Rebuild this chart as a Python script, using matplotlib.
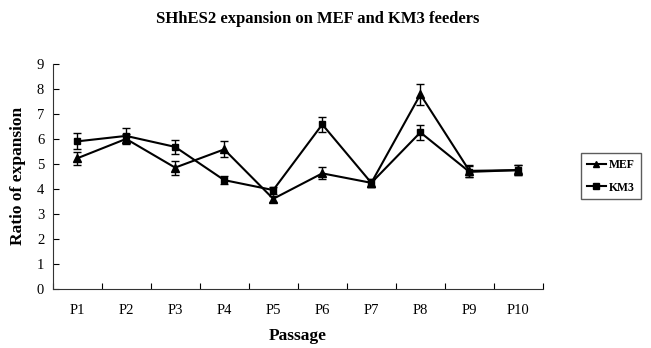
import numpy as np
import matplotlib.pyplot as plt
from matplotlib.lines import Line2D

plt.rcParams['font.family'] = ['Liberation Serif', 'DejaVu Serif']

# data
passages = ['P1', 'P2', 'P3', 'P4', 'P5', 'P6', 'P7', 'P8', 'P9', 'P10']
mef = [5.22, 6.0, 4.85, 5.58, 3.6, 4.62, 4.24, 7.78, 4.72, 4.75]
mef_err = [0.25, 0.2, 0.28, 0.32, 0.12, 0.24, 0.15, 0.42, 0.25, 0.2]
km3 = [5.9, 6.12, 5.68, 4.35, 3.95, 6.58, 4.24, 6.26, 4.68, 4.75]
km3_err = [0.32, 0.3, 0.27, 0.16, 0.14, 0.3, 0.15, 0.3, 0.22, 0.2]

fig = plt.figure(figsize=(6.51, 3.48), dpi=100)
ax = fig.add_axes([52.5/651, 1-288.7/348, (543-52.5)/651, (288.7-64)/348])

x = np.arange(1, len(passages) + 1)

ax.errorbar(x, mef, yerr=mef_err, color='black', marker='^', ms=5.5,
            lw=1.5, elinewidth=1, capsize=3, capthick=1)
ax.errorbar(x, km3, yerr=km3_err, color='black', marker='s', ms=5,
            lw=1.5, elinewidth=1, capsize=3, capthick=1)

ax.set_xlim(0.5, len(passages) + 0.5)
ax.set_ylim(0, 9)
ax.set_yticks(range(0, 10))
ax.set_xticks(np.arange(0.5, len(passages) + 1, 1))
ax.set_xticklabels([])
ax.set_xticks(x, minor=True)
ax.set_xticklabels(passages, minor=True)
ax.tick_params(axis='x', which='major', direction='in', length=4)
ax.tick_params(axis='x', which='minor', length=0, pad=11, labelsize=10.5)
ax.tick_params(axis='y', direction='in', length=4, labelsize=10.5, pad=6)

for s in ['top', 'right']:
    ax.spines[s].set_visible(False)
for s in ['left', 'bottom']:
    ax.spines[s].set_color('#333333')

ax.set_ylabel('Ratio of expansion', fontsize=12.5, fontweight='bold', labelpad=8)
ax.set_xlabel('Passage', fontsize=12.5, fontweight='bold', labelpad=8)
fig.text(318/651, 1-19/348, 'SHhES2 expansion on MEF and KM3 feeders',
         ha='center', va='center', fontsize=12, fontweight='bold')

handles = [Line2D([], [], color='black', marker='^', ms=5, lw=1.5),
           Line2D([], [], color='black', marker='s', ms=4.5, lw=1.5)]
ax.legend(handles, ['MEF', 'KM3'], loc='upper left',
          bbox_to_anchor=(581/651, 1-153/348),
          bbox_transform=fig.transFigure, frameon=True, fancybox=False,
          edgecolor='#333333', handlelength=1.6, handletextpad=0.3,
          borderpad=0.5, borderaxespad=0, labelspacing=0.9,
          prop={'weight': 'bold', 'size': 8.5})

fig.savefig('out.png', dpi=100)
